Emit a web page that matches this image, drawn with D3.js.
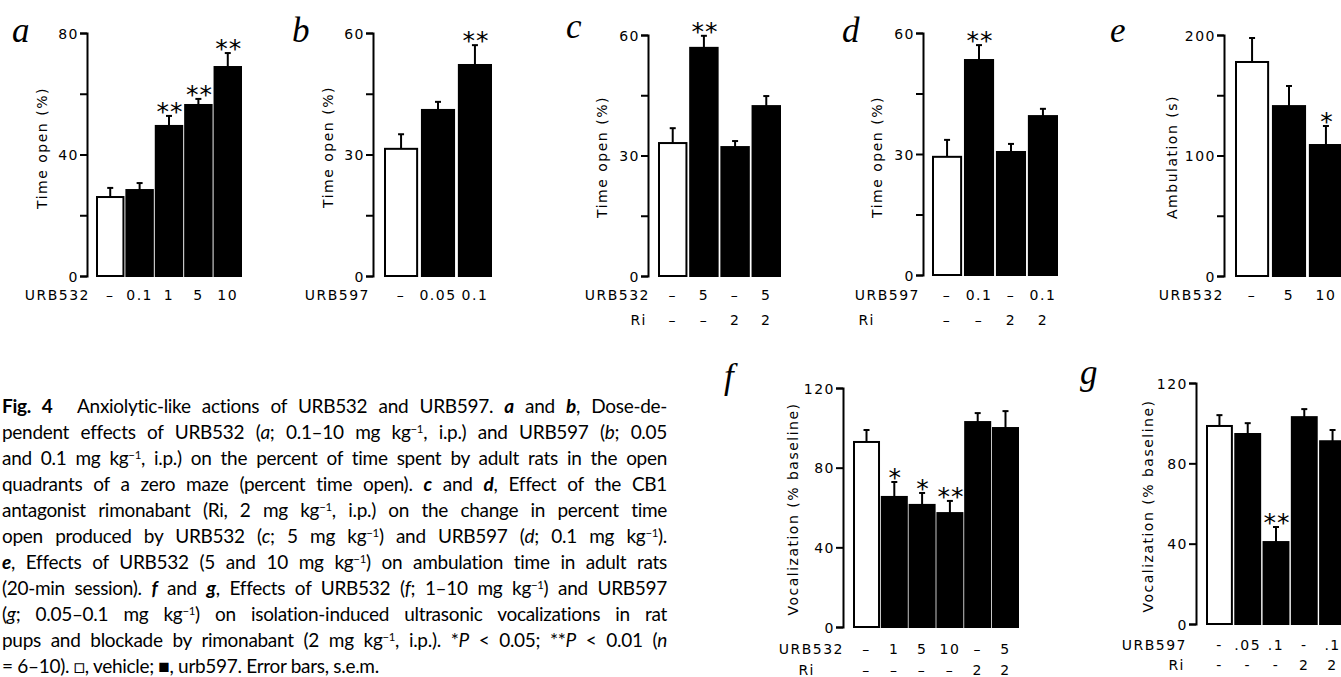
<!DOCTYPE html>
<html>
<head>
<meta charset="utf-8">
<script src="https://cdn.jsdelivr.net/npm/d3@7"></script>
<style>
  body { margin: 0; background: #fff; }
  #fig { position: relative; width: 1341px; height: 677px; overflow: hidden; }
  svg { position: absolute; left: 0; top: 0; }
  .yaxis text, .lab { font-family: "DejaVu Sans"; font-size: 14px; letter-spacing: 1.5px; fill: #000; }
  .yaxis path, .yaxis line { stroke: #000; stroke-width: 2; }
  .star { font-family: "DejaVu Sans"; font-size: 25px; letter-spacing: 1px; fill: #000; }
  .letter { font-family: "Liberation Serif"; font-style: italic; font-size: 35px; fill: #000; }
  .caption { position: absolute; left: 2px; top: 393px; width: 665px; font-family: Lato; font-size: 19px; letter-spacing: -0.3px; line-height: 26px; color: #000; }
  .caption div { text-align: justify; text-align-last: justify; height: 26px; }
  .caption div.last { text-align-last: left; }
  .caption .sup { position: relative; top: -0.5em; font-size: 0.6em; }
</style>
</head>
<body>
<div id="fig"></div>
<script>
// ---- data ----
// a: URB532 dose response, time open (%)
var aDoses = ["–", "0.1", "1", "5", "10"];
var aMeans = [26, 28.3, 49.4, 56.3, 68.8];
var aSem   = [3, 2.3, 3.3, 2, 4.6];
var aSig   = ["", "", "**", "**", "**"];
// b: URB597 dose response
var bDoses = ["–", "0.05", "0.1"];
var bMeans = [31.4, 41, 52.1];
var bSem   = [3.6, 2, 4.9];
var bSig   = ["", "", "**"];
// c: URB532 +/- rimonabant
var cDoses = ["–", "5", "–", "5"];
var cRi    = ["–", "–", "2", "2"];
var cMeans = [33.1, 56.8, 32.1, 42.3];
var cSem   = [3.7, 3, 1.5, 2.5];
var cSig   = ["", "**", "", ""];
// d: URB597 +/- rimonabant
var dDoses = ["–", "0.1", "–", "0.1"];
var dRi    = ["–", "–", "2", "2"];
var dMeans = [29.3, 53.3, 30.5, 39.4];
var dSem   = [4.2, 3.7, 2, 1.8];
var dSig   = ["", "**", "", ""];
// e: ambulation (s)
var eDoses = ["–", "5", "10"];
var eMeans = [177.6, 141, 108.7];
var eSem   = [19.9, 16.7, 15.8];
var eSig   = ["", "", "*"];
// f: vocalization, URB532
var fDoses = ["–", "1", "5", "10", "–", "5"];
var fRi    = ["–", "–", "–", "–", "2", "2"];
var fMeans = [92.9, 65.3, 61.3, 57.2, 102.9, 99.9];
var fSem   = [6, 7.5, 6, 6.1, 4.5, 8.5];
var fSig   = ["", "*", "*", "**", "", ""];
// g: vocalization, URB597
var gDoses = ["-", ".05", ".1", "-", ".1"];
var gRi    = ["-", "-", "-", "2", "2"];
var gMeans = [98.6, 94.6, 40.8, 103, 91];
var gSem   = [5.4, 5.4, 7.5, 4, 5.6];
var gSig   = ["", "", "**", "", ""];

var captionLines = [
  [["Fig. 4", "b"], ["\u2003 Anxiolytic-like actions of URB532 and URB597. "], ["a", "bi"], [" and "], ["b", "bi"], [", Dose-de-"]],
  [["pendent effects of URB532 ("], ["a", "i"], ["; 0.1–10 mg kg"], ["−1", "s"], [", i.p.) and URB597 ("], ["b", "i"], ["; 0.05"]],
  [["and 0.1 mg kg"], ["−1", "s"], [", i.p.) on the percent of time spent by adult rats in the open"]],
  [["quadrants of a zero maze (percent time open). "], ["c", "bi"], [" and "], ["d", "bi"], [", Effect of the CB1"]],
  [["antagonist rimonabant (Ri, 2 mg kg"], ["−1", "s"], [", i.p.) on the change in percent time"]],
  [["open produced by URB532 ("], ["c", "i"], ["; 5 mg kg"], ["−1", "s"], [") and URB597 ("], ["d", "i"], ["; 0.1 mg kg"], ["−1", "s"], [")."]],
  [["e", "bi"], [", Effects of URB532 (5 and 10 mg kg"], ["−1", "s"], [") on ambulation time in adult rats"]],
  [["(20-min session). "], ["f", "bi"], [" and "], ["g", "bi"], [", Effects of URB532 ("], ["f", "i"], ["; 1–10 mg kg"], ["−1", "s"], [") and URB597"]],
  [["("], ["g", "i"], ["; 0.05–0.1 mg kg"], ["−1", "s"], [") on isolation-induced ultrasonic vocalizations in rat"]],
  [["pups and blockade by rimonabant (2 mg kg"], ["−1", "s"], [", i.p.). *"], ["P", "i"], [" < 0.05; **"], ["P", "i"], [" < 0.01 ("], ["n", "i"]],
  [["= 6–10). □, vehicle; ■, urb597. Error bars, s.e.m."]]
];

var W = 1341, H = 677;
var fig = d3.select("#fig");
var svg = fig.append("svg").attr("width", W).attr("height", H);

function drawPanel(p) {
  var g = svg.append("g");
  var y = d3.scaleLinear().domain([0, p.max]).range([p.y0, p.yTop]);
  var x = d3.scaleBand().domain(d3.range(p.means.length)).range(p.xr).paddingInner(p.pad);

  g.append("g")
    .attr("class", "yaxis")
    .attr("transform", "translate(" + p.ax + ",0)")
    .call(d3.axisLeft(y)
      .tickValues(d3.range(0, p.max + 1e-9, p.step))
      .tickFormat(function (v) { return v % p.labelStep === 0 ? v : ""; })
      .tickSizeOuter(0).tickSize(7).tickPadding(1));
  g.select(".yaxis").selectAll("text").attr("dy", "0.36em");

  var bars = g.selectAll(".bar").data(p.means).enter().append("g");
  bars.append("rect")
    .attr("x", function (d, i) { return x(i); })
    .attr("width", x.bandwidth())
    .attr("y", function (d) { return y(d); })
    .attr("height", function (d) { return p.y0 - y(d); })
    .attr("fill", function (d, i) { return i === 0 ? "#fff" : "#000"; })
    .attr("stroke", "#000").attr("stroke-width", 2);

  // error bars (upper only)
  bars.append("line")
    .attr("x1", function (d, i) { return x(i) + x.bandwidth() / 2; })
    .attr("x2", function (d, i) { return x(i) + x.bandwidth() / 2; })
    .attr("y1", function (d) { return y(d); })
    .attr("y2", function (d, i) { return y(d + p.sems[i]); })
    .attr("stroke", "#000").attr("stroke-width", 2);
  bars.append("line")
    .attr("x1", function (d, i) { return x(i) + x.bandwidth() / 2 - 3; })
    .attr("x2", function (d, i) { return x(i) + x.bandwidth() / 2 + 3; })
    .attr("y1", function (d, i) { return y(d + p.sems[i]); })
    .attr("y2", function (d, i) { return y(d + p.sems[i]); })
    .attr("stroke", "#000").attr("stroke-width", 2);
  bars.append("text")
    .attr("class", "star")
    .attr("text-anchor", "middle")
    .attr("x", function (d, i) { return x(i) + x.bandwidth() / 2 + 1; })
    .attr("y", function (d, i) { return y(d + p.sems[i]) + 4; })
    .text(function (d, i) { return p.sig[i]; });

  // label rows under the bars
  p.rows.forEach(function (r, k) {
    g.append("text").attr("class", "lab")
      .attr("x", r.nameX).attr("y", p.rowY[k])
      .attr("text-anchor", "end").attr("dominant-baseline", "central")
      .text(r.name);
    g.selectAll(".row" + k).data(r.labels).enter().append("text")
      .attr("class", "lab")
      .attr("x", function (d, i) { return x(i) + x.bandwidth() / 2; })
      .attr("y", p.rowY[k])
      .attr("text-anchor", "middle").attr("dominant-baseline", "central")
      .text(function (d) { return d; });
  });

  g.append("text").attr("class", "lab")
    .attr("transform", "translate(" + p.ylx + "," + p.yly + ") rotate(-90)")
    .attr("text-anchor", "middle").attr("dominant-baseline", "central")
    .text(p.ylabel);

  g.append("text").attr("class", "letter")
    .attr("x", p.lx).attr("y", p.ly).text(p.letter);
}

var timeLabel = "Time open (%)";
var vocLabel = "Vocalization (% baseline)";

drawPanel({ letter: "a", lx: 12, ly: 42, ax: 87, y0: 276, yTop: 33, max: 80, step: 20, labelStep: 40,
  xr: [97, 241], pad: 0.1, means: aMeans, sems: aSem, sig: aSig,
  rows: [{ name: "URB532", nameX: 90, labels: aDoses }], rowY: [295],
  ylabel: timeLabel, ylx: 42, yly: 148 });

drawPanel({ letter: "b", lx: 292, ly: 42, ax: 373, y0: 276, yTop: 33, max: 60, step: 15, labelStep: 30,
  xr: [385, 491], pad: 0.13, means: bMeans, sems: bSem, sig: bSig,
  rows: [{ name: "URB597", nameX: 370, labels: bDoses }], rowY: [295],
  ylabel: timeLabel, ylx: 328, yly: 147 });

drawPanel({ letter: "c", lx: 566, ly: 38, ax: 648, y0: 276, yTop: 35, max: 60, step: 15, labelStep: 30,
  xr: [659, 780], pad: 0.12, means: cMeans, sems: cSem, sig: cSig,
  rows: [{ name: "URB532", nameX: 650, labels: cDoses }, { name: "Ri", nameX: 647, labels: cRi }], rowY: [295, 320],
  ylabel: timeLabel, ylx: 602, yly: 157 });

drawPanel({ letter: "d", lx: 842, ly: 42, ax: 923, y0: 275, yTop: 33, max: 60, step: 15, labelStep: 30,
  xr: [933, 1057], pad: 0.12, means: dMeans, sems: dSem, sig: dSig,
  rows: [{ name: "URB597", nameX: 920, labels: dDoses }, { name: "Ri", nameX: 875, labels: dRi }], rowY: [295, 320],
  ylabel: timeLabel, ylx: 877, yly: 157 });

drawPanel({ letter: "e", lx: 1110, ly: 42, ax: 1224, y0: 276, yTop: 35, max: 200, step: 50, labelStep: 100,
  xr: [1236, 1342], pad: 0.13, means: eMeans, sems: eSem, sig: eSig,
  rows: [{ name: "URB532", nameX: 1224, labels: eDoses }], rowY: [295],
  ylabel: "Ambulation (s)", ylx: 1172, yly: 157 });

drawPanel({ letter: "f", lx: 724, ly: 388, ax: 843, y0: 627, yTop: 388, max: 120, step: 40, labelStep: 40,
  xr: [854, 1018], pad: 0.1, means: fMeans, sems: fSem, sig: fSig,
  rows: [{ name: "URB532", nameX: 844, labels: fDoses }, { name: "Ri", nameX: 815, labels: fRi }], rowY: [649, 670],
  ylabel: vocLabel, ylx: 793, yly: 509 });

drawPanel({ letter: "g", lx: 1080, ly: 384, ax: 1196, y0: 624, yTop: 383, max: 120, step: 40, labelStep: 40,
  xr: [1207, 1345], pad: 0.12, means: gMeans, sems: gSem, sig: gSig,
  rows: [{ name: "URB597", nameX: 1187, labels: gDoses }, { name: "Ri", nameX: 1185, labels: gRi }], rowY: [645, 665],
  ylabel: vocLabel, ylx: 1148, yly: 506 });

// caption
var cap = fig.append("div").attr("class", "caption");
captionLines.forEach(function (line, i) {
  var div = cap.append("div").classed("last", i === captionLines.length - 1);
  line.forEach(function (seg) {
    var s = div.append("span").text(seg[0]);
    var st = seg[1] || "";
    if (st.indexOf("b") >= 0) s.style("font-weight", "bold");
    if (st.indexOf("i") >= 0) s.style("font-style", "italic");
    if (st === "s") s.attr("class", "sup");
  });
});
</script>
</body>
</html>
